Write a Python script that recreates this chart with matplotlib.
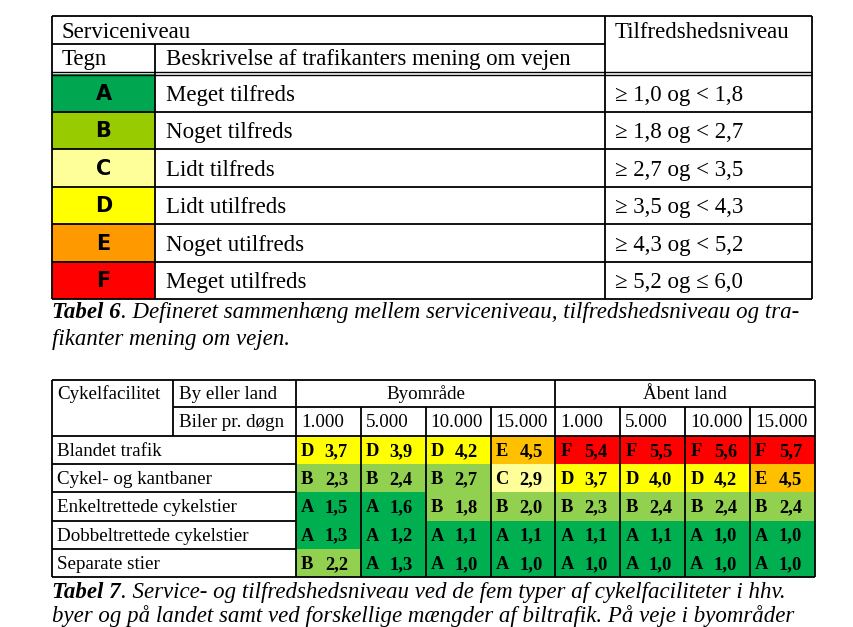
import matplotlib.pyplot as plt
from matplotlib.patches import Rectangle

# table 6 data
levels = ['A', 'B', 'C', 'D', 'E', 'F']
descriptions = ['Meget tilfreds', 'Noget tilfreds', 'Lidt tilfreds',
                'Lidt utilfreds', 'Noget utilfreds', 'Meget utilfreds']
ranges = ['≥ 1,0 og < 1,8', '≥ 1,8 og < 2,7', '≥ 2,7 og < 3,5',
          '≥ 3,5 og < 4,3', '≥ 4,3 og < 5,2', '≥ 5,2 og ≤ 6,0']
colors6 = ['#00A650', '#99CC00', '#FFFF99', '#FFFF00', '#FF9900', '#FF0000']

# table 7 data
facilities = ['Blandet trafik', 'Cykel- og kantbaner', 'Enkeltrettede cykelstier',
              'Dobbeltrettede cykelstier', 'Separate stier']
volumes = ['1.000', '5.000', '10.000', '15.000']
by_letters = [['D', 'D', 'D', 'E'], ['B', 'B', 'B', 'C'], ['A', 'A', 'B', 'B'],
              ['A', 'A', 'A', 'A'], ['B', 'A', 'A', 'A']]
by_values = [['3,7', '3,9', '4,2', '4,5'], ['2,3', '2,4', '2,7', '2,9'],
             ['1,5', '1,6', '1,8', '2,0'], ['1,3', '1,2', '1,1', '1,1'],
             ['2,2', '1,3', '1,0', '1,0']]
land_letters = [['F', 'F', 'F', 'F'], ['D', 'D', 'D', 'E'], ['B', 'B', 'B', 'B'],
                ['A', 'A', 'A', 'A'], ['A', 'A', 'A', 'A']]
land_values = [['5,4', '5,5', '5,6', '5,7'], ['3,7', '4,0', '4,2', '4,5'],
               ['2,3', '2,4', '2,4', '2,4'], ['1,1', '1,1', '1,0', '1,0'],
               ['1,0', '1,0', '1,0', '1,0']]
colors7 = {'A': '#00B050', 'B': '#92D050', 'C': '#FFFF99', 'D': '#FFFF00',
           'E': '#FFC000', 'F': '#FF0000'}

serif = 'Liberation Serif'
lw = 1.3
fs6 = 16.5
fs7 = 13.7
fscap = 16.5

fig = plt.figure(figsize=(8.54, 6.27), dpi=100)
ax = fig.add_axes([0, 0, 1, 1])
ax.set_xlim(0, 854)
ax.set_ylim(627, 0)
ax.axis('off')


def hline(y, x0, x1, w=lw):
    ax.plot([x0, x1], [y, y], color='black', lw=w, solid_capstyle='butt')


def vline(x, y0, y1, w=lw):
    ax.plot([x, x], [y0, y1], color='black', lw=w, solid_capstyle='butt')


def caption(x, y, bold_part, rest, size):
    t = ax.text(x, y, bold_part, fontsize=size, family=serif, style='italic',
                weight='bold', va='baseline')
    fig.canvas.draw()
    bb = t.get_window_extent()
    x_end = ax.transData.inverted().transform((bb.x1, bb.y0))[0]
    ax.text(x_end, y, rest, fontsize=size, family=serif, style='italic', va='baseline')


# ---------------- Tabel 6 ----------------
L, R = 52, 812
c1, c2 = 155, 605
top, h1, h2 = 16, 44, 72
row_h = (299 - 74) / len(levels)
rows6 = [74 + i * row_h for i in range(len(levels) + 1)]

for i, lev in enumerate(levels):
    ax.add_patch(Rectangle((L, rows6[i]), c1 - L, row_h, color=colors6[i], lw=0))
    ym = rows6[i] + row_h / 2
    ax.text((L + c1) / 2, ym + 1, lev, fontsize=15, family='DejaVu Sans',
            weight='heavy', ha='center', va='center')
    ax.text(166, ym + 8, descriptions[i], fontsize=fs6, family=serif, va='baseline')
    ax.text(615, ym + 8, ranges[i], fontsize=fs6, family=serif, va='baseline')

ax.text(62, 38, 'Serviceniveau', fontsize=fs6, family=serif, va='baseline')
ax.text(615, 38, 'Tilfredshedsniveau', fontsize=fs6, family=serif, va='baseline')
ax.text(62, 65, 'Tegn', fontsize=fs6, family=serif, va='baseline')
ax.text(166, 65, 'Beskrivelse af trafikanters mening om vejen', fontsize=fs6,
        family=serif, va='baseline')

hline(top, L, R)
hline(h1, L, c2)
hline(h2, L, R, 1.0)
hline(h2 + 2.5, L, R, 1.0)
for y in rows6[1:]:
    hline(y, L, R)
vline(L, top, rows6[-1])
vline(R, top, rows6[-1])
vline(c2, top, rows6[-1])
vline(c1, h1, rows6[-1])

caption(52, 318, 'Tabel 6', '. Defineret sammenhæng mellem serviceniveau, tilfredshedsniveau og tra-', fscap)
ax.text(52, 345, 'fikanter mening om vejen.', fontsize=fscap, family=serif,
        style='italic', va='baseline')

# ---------------- Tabel 7 ----------------
L7, R7 = 52, 815
k1, k2 = 173, 296
t7, m7, hd7 = 380, 407, 436
ncol = 2 * len(volumes)
col_w = (R7 - k2) / ncol
cols7 = [k2 + i * col_w for i in range(ncol + 1)]
drow = (577 - hd7) / len(facilities)
rows7 = [hd7 + i * drow for i in range(len(facilities) + 1)]

letters_all = [by_letters[r] + land_letters[r] for r in range(len(facilities))]
values_all = [by_values[r] + land_values[r] for r in range(len(facilities))]

for r, name in enumerate(facilities):
    ym = rows7[r] + drow / 2
    ax.text(57, ym + 6, name, fontsize=fs7, family=serif, va='baseline')
    for c in range(ncol):
        let = letters_all[r][c]
        ax.add_patch(Rectangle((cols7[c], rows7[r]), col_w, drow,
                               color=colors7[let], lw=0))
        ax.text(cols7[c] + 5, ym + 6, let, fontsize=13.3, family=serif,
                weight='bold', va='baseline')
        ax.text(cols7[c] + 52, ym + 6, values_all[r][c], fontsize=13.3,
                family=serif, weight='bold', va='baseline', ha='right')

ax.text(57, 399, 'Cykelfacilitet', fontsize=fs7, family=serif, va='baseline')
ax.text(179, 399, 'By eller land', fontsize=fs7, family=serif, va='baseline')
ax.text(179, 427, 'Biler pr. døgn', fontsize=fs7, family=serif, va='baseline')
ax.text((cols7[0] + cols7[4]) / 2, 399, 'Byområde', fontsize=fs7, family=serif,
        va='baseline', ha='center')
ax.text((cols7[4] + cols7[8]) / 2, 399, 'Åbent land', fontsize=fs7, family=serif,
        va='baseline', ha='center')
for c in range(ncol):
    ax.text(cols7[c] + 5, 427, volumes[c % len(volumes)], fontsize=fs7,
            family=serif, va='baseline')

hline(t7, L7, R7)
hline(m7, k1, R7)
hline(hd7, L7, R7)
for y in rows7[1:-1]:
    hline(y, L7, k2)
hline(rows7[-1], L7, R7)
vline(L7, t7, rows7[-1])
vline(k1, t7, hd7)
vline(k2, t7, rows7[-1])
vline(cols7[4], t7, rows7[-1])
vline(R7, t7, rows7[-1])
for c in range(1, ncol):
    if c != 4:
        vline(cols7[c], m7, rows7[-1])

caption(52, 598, 'Tabel 7', '. Service- og tilfredshedsniveau ved de fem typer af cykelfaciliteter i hhv.', fscap)
ax.text(52, 622, 'byer og på landet samt ved forskellige mængder af biltrafik. På veje i byområder',
        fontsize=fscap, family=serif, style='italic', va='baseline')

fig.savefig('out.png', dpi=100)
